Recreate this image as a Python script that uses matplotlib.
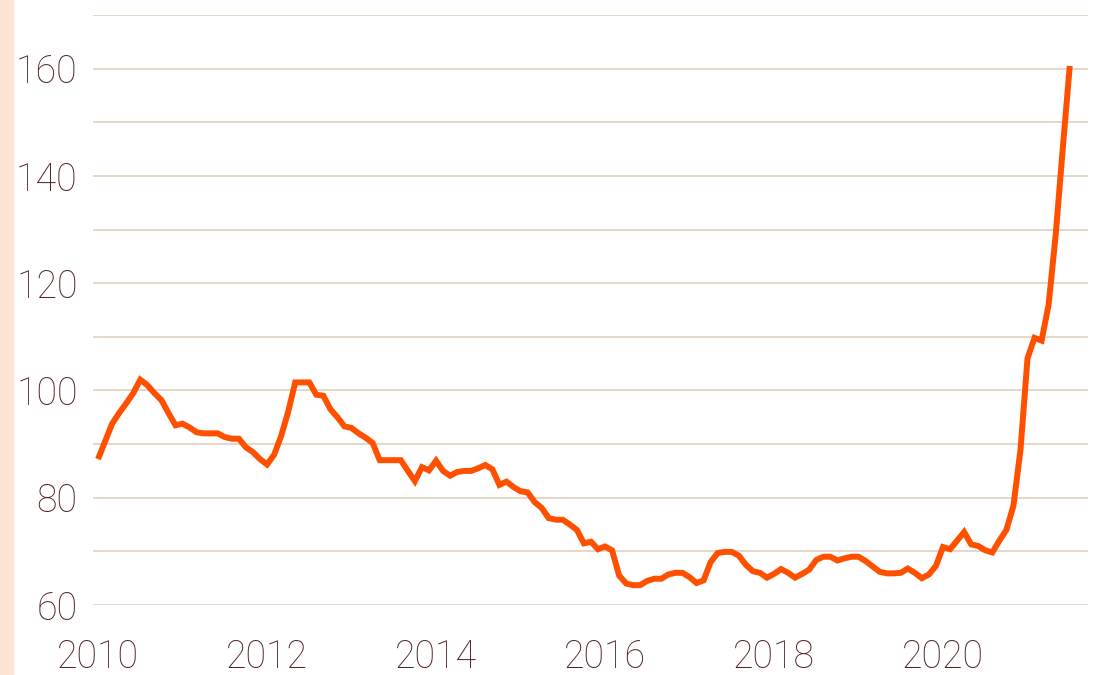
import matplotlib.pyplot as plt
import matplotlib
from matplotlib.patches import Rectangle

# ---- 字體設定 ----
matplotlib.rcParams["font.family"] = ["Roboto", "DejaVu Sans"]

# ---- 資料 (月資料, 2010-01 起) ----
start_year = 2010
values = [
    87.2, 90.5, 93.8, 95.8, 97.6, 99.5, 102.0, 101.0, 99.5, 98.2, 95.8, 93.5,
    93.8, 93.1, 92.2, 92.0, 92.0, 92.0, 91.3, 91.0, 91.0, 89.4, 88.5, 87.2,
    86.2, 88.0, 91.5, 96.0, 101.5, 101.5, 101.5, 99.2, 99.0, 96.5, 95.0, 93.3,
    93.0, 92.0, 91.2, 90.2, 87.0, 87.0, 87.0, 87.0, 85.0, 83.1, 85.7, 85.1,
    86.9, 85.0, 84.1, 84.8, 85.0, 85.0, 85.5, 86.1, 85.3, 82.4, 83.0, 82.0,
    81.2, 81.0, 79.2, 78.1, 76.2, 75.9, 75.9, 75.0, 74.0, 71.5, 71.8, 70.4,
    70.9, 70.2, 65.5, 64.0, 63.7, 63.7, 64.5, 64.9, 64.9, 65.7, 66.0, 66.0,
    65.2, 64.1, 64.6, 68.0, 69.7, 69.9, 69.9, 69.2, 67.5, 66.3, 66.0, 65.1,
    65.8, 66.7, 66.0, 65.1, 65.8, 66.6, 68.4, 69.0, 69.0, 68.3, 68.7, 69.0,
    69.0, 68.2, 67.2, 66.2, 65.9, 65.9, 66.0, 66.8, 66.0, 65.0, 65.7, 67.3,
    70.8, 70.4, 72.0, 73.6, 71.3, 71.0, 70.2, 69.8, 72.0, 74.0, 78.5, 88.9,
    106.0, 109.8, 109.3, 116.0, 129.0, 145.0, 160.5,
]
x = [start_year + i / 12 for i in range(len(values))]

year_ticks = [2010, 2012, 2014, 2016, 2018, 2020]
y_major = [60, 80, 100, 120, 140, 160]
y_minor = [70, 90, 110, 130, 150, 170]

text_color = "#512626"
grid_color = "#e2cfc1"
line_color = "#ff5000"

fig = plt.figure(figsize=(10.99, 6.75), dpi=100)
ax = fig.add_axes([0.0846, 0.1037, 0.9054, 0.8741])

# 左側粉色條
fig.patches.append(Rectangle((0, 0), 13 / 1099, 1, transform=fig.transFigure,
                             color="#fce3d6", zorder=0))

ax.plot(x, values, color=line_color, linewidth=4.3, solid_joinstyle="miter",
        solid_capstyle="butt", zorder=3)

ax.set_xlim(2009.94, 2021.716)
ax.set_ylim(60, 170)
ax.set_xticks(year_ticks)
ax.set_xticklabels([str(y) for y in year_ticks])
ax.set_yticks(y_major)
ax.set_yticks(y_minor, minor=True)

ax.grid(True, axis="y", which="both", color=grid_color, linewidth=1.2, zorder=0)
for s in ax.spines.values():
    s.set_visible(False)

ax.tick_params(axis="both", which="both", length=0)
ax.tick_params(axis="y", pad=11, labelsize=27, labelcolor=text_color)
ax.tick_params(axis="x", pad=24, labelsize=27, labelcolor=text_color)
for lab in ax.get_xticklabels() + ax.get_yticklabels():
    lab.set_fontweight("light")

fig.savefig("out.png", dpi=100)
